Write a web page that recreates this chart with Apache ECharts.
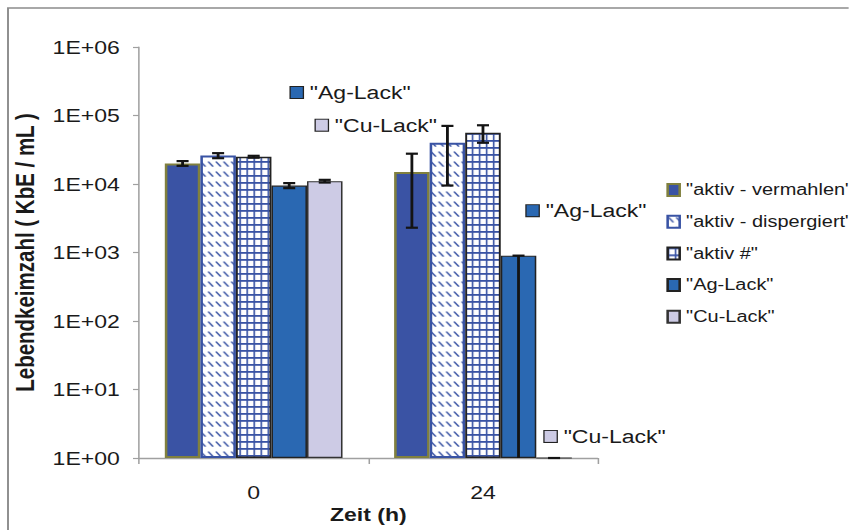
<!DOCTYPE html>
<html>
<head>
<meta charset="utf-8">
<script src="https://cdn.jsdelivr.net/npm/echarts@6/dist/echarts.min.js"></script>
<style>
  html, body { margin: 0; padding: 0; background: #fff; overflow: hidden; }
  #frame { width: 849px; height: 530px; overflow: hidden; position: relative; }
  /* the chart is laid out narrower and widened horizontally */
  #chart { width: 663.3px; height: 530px; transform: scaleX(1.28); transform-origin: 0 0; }
</style>
</head>
<body>
<div id="frame"><div id="chart"></div></div>
<script>
// ---- data ----
const categories = ['0', '24'];
const seriesNames = ['"aktiv - vermahlen"', '"aktiv - dispergiert"', '"aktiv #"', '"Ag-Lack"', '"Cu-Lack"'];

const vermahlen   = [20000, 15000];
const dispergiert = [26000, 40000];
const aktivRaute  = [25000, 56000];
const agLack      = [9500, 900];
const cuLack      = [11000, 1];

// error bar sizes (linear, + / -)
const vermahlenErr   = [1600, 12700];
const dispergiertErr = [2200, 30500];
const aktivRauteErr  = [800, 16000];
const agLackErrUp    = [800, 0];
const agLackErrDown  = [800, 900];
const cuLackErr      = [500, 0];

const yTickLabels = ['1E+00', '1E+01', '1E+02', '1E+03', '1E+04', '1E+05', '1E+06'];

// ---- styling ----
const FONT = "'Liberation Sans', Arial, Helvetica, sans-serif";
const TEXT = '#1a1a1a';
const AXIS = '#a0a0a0';
const Y_MIN = 1, Y_MAX = 1e6;
const CAT_GAP = 0.225;
const N_BARS = 5;

function tile(w, h, scale, draw) {
  const c = document.createElement('canvas');
  c.width = w * scale; c.height = h * scale;
  const ctx = c.getContext('2d');
  ctx.scale(scale, scale);
  draw(ctx);
  return { image: c, repeat: 'repeat', imageWidth: w, imageHeight: h };
}

const BLUE = '#3953a4';
// short diagonal dashes
const hatchFill = tile(6, 10, 4, ctx => {
  ctx.fillStyle = '#fff'; ctx.fillRect(0, 0, 6, 10);
  ctx.strokeStyle = BLUE; ctx.lineWidth = 1.3; ctx.lineCap = 'round';
  ctx.beginPath(); ctx.moveTo(1, 2); ctx.lineTo(4.2, 6.2); ctx.stroke();
});
// square grid
const gridFill = tile(5.5, 7, 4, ctx => {
  ctx.fillStyle = '#fff'; ctx.fillRect(0, 0, 5.5, 7);
  ctx.fillStyle = BLUE;
  ctx.fillRect(0, 0, 1.4, 7);
  ctx.fillRect(0, 0, 5.5, 1.8);
});

const barStyles = [
  { color: '#3a53a4', borderColor: '#80803e', borderWidth: 2 },
  { color: hatchFill, borderColor: BLUE, borderWidth: 2 },
  { color: gridFill, borderColor: '#222', borderWidth: 1.5 },
  { color: '#2a68b2', borderColor: '#222', borderWidth: 1.2 },
  { color: '#cdcbe5', borderColor: '#333', borderWidth: 1.2 }
];
const barValues = [vermahlen, dispergiert, aktivRaute, agLack, cuLack];

// floating name tags of the two lacquer series
const tagOffsets = {
  3: [[1.2, -93], [6.3, -45]],
  4: [[-7, -56], [-7.4, -21]]
};

function tagLabel(k) {
  return {
    show: true,
    position: 'top',
    distance: 0,
    align: 'left',
    verticalAlign: 'middle',
    formatter: p => '{k| }{t|' + p.seriesName + '}',
    rich: {
      k: { width: 9.4, height: 11, backgroundColor: barStyles[k].color, borderColor: '#222', borderWidth: 1 },
      t: { fontFamily: FONT, fontSize: 18, color: TEXT, padding: [0, 0, 0, 5.5] }
    }
  };
}

const barSeries = barValues.map((vals, k) => ({
  name: seriesNames[k],
  type: 'bar',
  barGap: '0%',
  barCategoryGap: (CAT_GAP * 100) + '%',
  itemStyle: barStyles[k],
  emphasis: { disabled: true },
  label: tagOffsets[k] ? tagLabel(k) : { show: false },
  data: vals.map((v, j) => tagOffsets[k]
    ? { value: v, label: { offset: tagOffsets[k][j] } }
    : v)
}));

// error bars
const errorSets = [
  { vals: vermahlen,   up: vermahlenErr,   down: vermahlenErr },
  { vals: dispergiert, up: dispergiertErr, down: dispergiertErr },
  { vals: aktivRaute,  up: aktivRauteErr,  down: aktivRauteErr },
  { vals: agLack,      up: agLackErrUp,    down: agLackErrDown },
  { vals: cuLack,      up: cuLackErr,      down: cuLackErr }
];
const errData = [];
errorSets.forEach((s, k) => s.vals.forEach((v, j) => {
  const hi = v + s.up[j];
  const loRaw = v - s.down[j];
  const lo = Math.max(loRaw, Y_MIN);
  errData.push([j, lo, hi, k, loRaw > Y_MIN ? 1 : 0]);
}));

const CAP = 9.4;
const errSeries = {
  type: 'custom',
  name: 'err',
  z: 5,
  encode: { x: 0, y: [1, 2] },
  data: errData,
  renderItem(params, api) {
    const cat = api.value(0), lo = api.value(1), hi = api.value(2), k = api.value(3), lowCap = api.value(4);
    const band = api.size([1, 0], [cat, 10])[0];
    const bw = band * (1 - CAT_GAP) / N_BARS;
    const pHi = api.coord([cat, hi]);
    const pLo = api.coord([cat, lo]);
    const x = pHi[0] + (k - (N_BARS - 1) / 2) * bw;
    const style = { stroke: '#141414', lineWidth: 2.2 };
    const children = [
      { type: 'line', shape: { x1: x, y1: pHi[1], x2: x, y2: pLo[1] }, style },
      { type: 'line', shape: { x1: x - CAP / 2, y1: pHi[1], x2: x + CAP / 2, y2: pHi[1] }, style }
    ];
    if (lowCap) {
      children.push({ type: 'line', shape: { x1: x - CAP / 2, y1: pLo[1], x2: x + CAP / 2, y2: pLo[1] }, style });
    }
    return { type: 'group', children };
  }
};

const chart = echarts.init(document.getElementById('chart'), null, { renderer: 'svg' });
chart.setOption({
  backgroundColor: '#fff',
  animation: false,
  textStyle: { fontFamily: FONT },
  graphic: [{
    type: 'rect',
    silent: true,
    shape: { x: 6.25, y: 8, width: 800, height: 700 },
    style: { fill: 'none', stroke: '#8c8c8c', lineWidth: 1.5 }
  }],
  grid: { left: 108.6, right: 196.1, top: 47, bottom: 72, containLabel: false },
  legend: {
    orient: 'vertical',
    left: 515.6,
    top: 177,
    itemWidth: 9.4,
    itemHeight: 12,
    itemGap: 15.7,
    icon: 'rect',
    data: seriesNames,
    selectedMode: false,
    textStyle: { fontFamily: FONT, fontSize: 15.6, color: TEXT }
  },
  xAxis: {
    type: 'category',
    data: categories,
    name: 'Zeit (h)',
    nameLocation: 'middle',
    nameGap: 46,
    nameTextStyle: { fontFamily: FONT, fontSize: 18, fontWeight: 'bold', color: TEXT },
    axisLine: { lineStyle: { color: AXIS, width: 1.3 } },
    axisTick: { show: true, length: 6, alignWithLabel: false, lineStyle: { color: AXIS, width: 1.2 } },
    axisLabel: { fontFamily: FONT, fontSize: 18, color: TEXT, margin: 25 },
    splitLine: { show: false }
  },
  yAxis: {
    type: 'log',
    logBase: 10,
    min: Y_MIN,
    max: Y_MAX,
    interval: 1,
    name: 'Lebendkeimzahl ( KbE / mL )',
    nameLocation: 'middle',
    nameRotate: 90,
    nameGap: 71,
    nameTextStyle: { fontFamily: FONT, fontSize: 20.5, fontWeight: 'bold', color: TEXT },
    axisLine: { show: true, lineStyle: { color: AXIS, width: 1.2 } },
    axisTick: { show: true, length: 4.7, lineStyle: { color: AXIS, width: 1.2 } },
    axisLabel: {
      fontFamily: FONT, fontSize: 18, color: TEXT, margin: 15,
      formatter: v => yTickLabels[Math.round(Math.log10(v))]
    },
    splitLine: { show: false },
    minorTick: { show: false }
  },
  series: [...barSeries, errSeries]
});
</script>
</body>
</html>
